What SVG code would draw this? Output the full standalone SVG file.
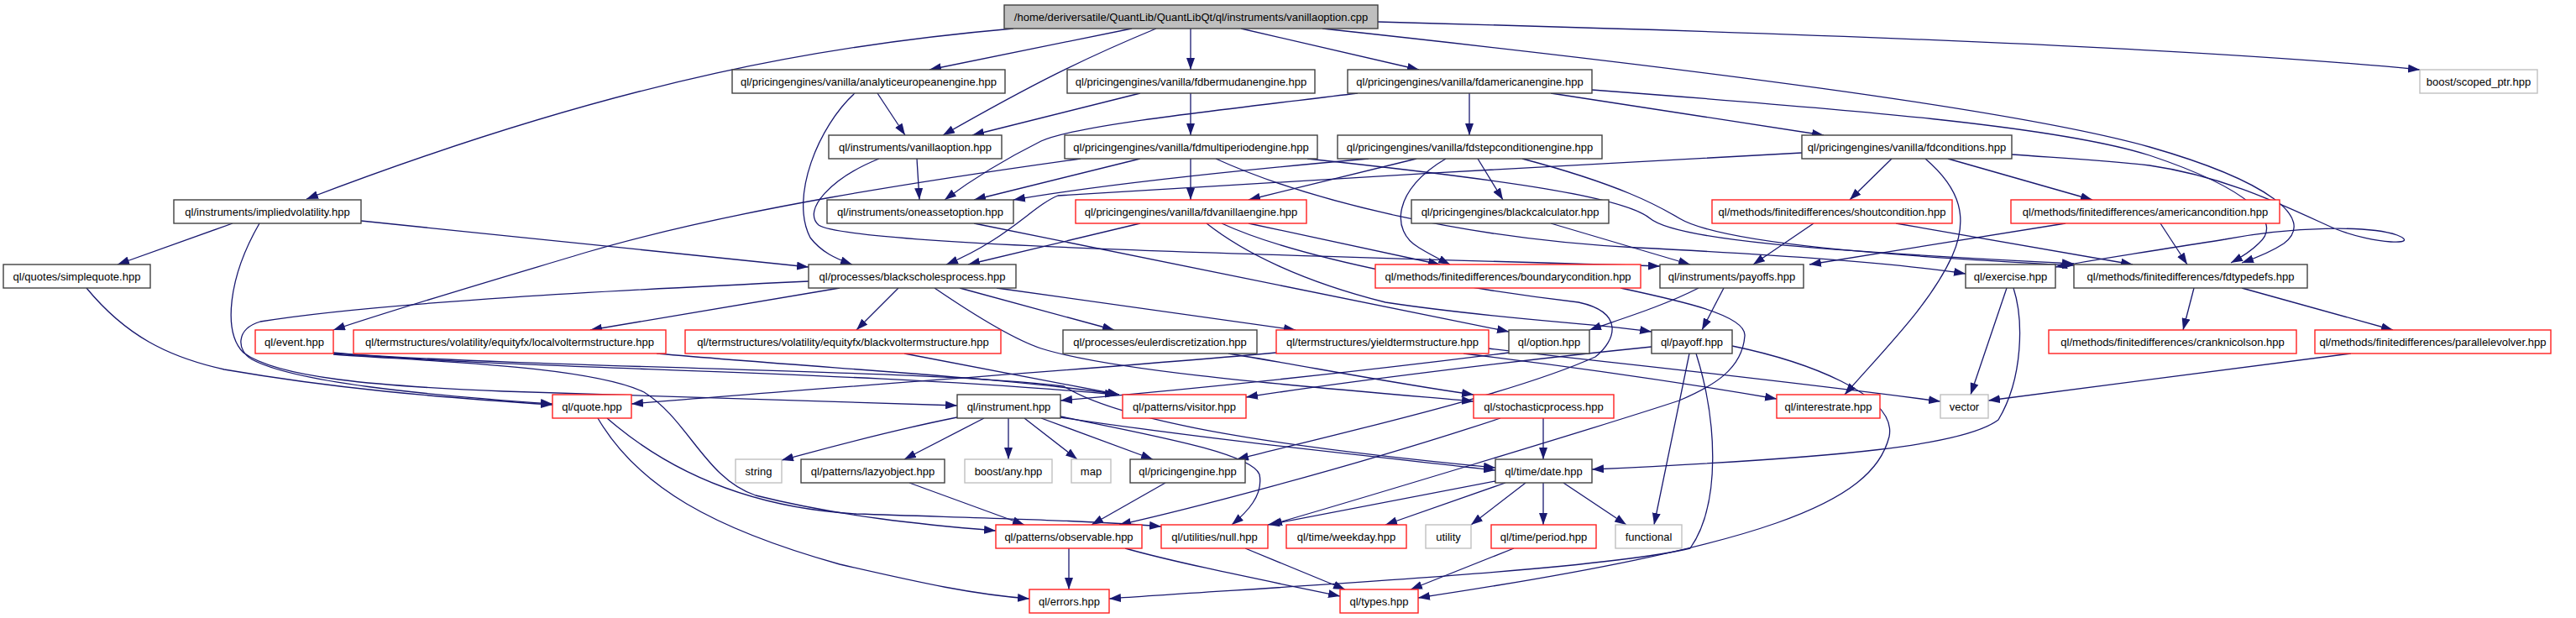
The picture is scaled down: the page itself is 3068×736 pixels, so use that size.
<svg xmlns="http://www.w3.org/2000/svg" width="3068" height="736" viewBox="0 0 3068 736">
<defs>
<marker id="a" markerUnits="userSpaceOnUse" markerWidth="14" markerHeight="10" refX="14" refY="5" orient="auto" viewBox="0 0 14 10"><path d="M0,0L14,5L0,10z" fill="#191970"/></marker>
<style>
.n rect{fill:#fff;stroke:#404040;stroke-width:1.4}
.r rect{fill:#fff;stroke:#ff2020;stroke-width:1.4}
.g rect{fill:#fff;stroke:#c0c0c0;stroke-width:1.4}
.root rect{fill:#bfbfbf;stroke:#404040;stroke-width:1.4}
text{font-family:"Liberation Sans",Arial,sans-serif;font-size:13px;fill:#000;text-anchor:middle}
#edges path{fill:none;stroke:#191970;stroke-width:1.3;marker-end:url(#a)}
</style>
</defs>
<rect width="3068" height="736" fill="#fff"/>
<g id="edges">
<path d="M1207,34 C1000,52 750,90 365,237"/>
<path d="M1348,34 L1107,83"/>
<path d="M1377,34 C1290,70 1230,100 1123,161"/>
<path d="M1418,34 L1418,83"/>
<path d="M1478,34 L1690,83"/>
<path d="M1641,26 C2100,38 2600,55 2882,83"/>
<path d="M1575,34 C2000,80 2400,130 2560,175 C2700,215 2760,260 2720,290 C2705,300 2690,306 2670,313"/>
<path d="M1896,107 C2200,130 2450,150 2560,185 C2680,225 2720,265 2690,290 C2680,300 2670,306 2657,313"/>
<path d="M2396,184 C2450,188 2500,190 2560,197 C2650,210 2720,245 2780,272 C2830,292 2885,292 2855,280 C2820,268 2730,270 2650,285 C2570,298 2500,308 2448,318"/>
<path d="M1045,111 L1078,161"/>
<path d="M1018,111 C975,150 940,235 965,283 C978,300 995,308 1015,315"/>
<path d="M1358,111 L1158,161"/>
<path d="M1418,111 L1418,161"/>
<path d="M1617,111 C1420,135 1280,150 1240,168 C1200,188 1160,212 1125,238"/>
<path d="M1750,111 L1750,161"/>
<path d="M1847,111 L2172,161"/>
<path d="M1092,189 L1095,238"/>
<path d="M1047,189 C990,212 955,250 975,268 C1010,292 1500,303 1977,317"/>
<path d="M1358,189 L1160,238"/>
<path d="M1418,189 L1418,238"/>
<path d="M1287,189 C1100,215 870,250 700,300 C600,330 480,365 397,393"/>
<path d="M1448,189 C1560,240 1750,285 1950,295 C2150,305 2270,315 2341,326"/>
<path d="M1557,189 C1800,215 1935,235 1965,260 C1995,285 2150,298 2470,314"/>
<path d="M1630,189 C1450,205 1300,222 1207,238"/>
<path d="M1687,189 L1487,238"/>
<path d="M1722,189 C1660,225 1655,275 1690,295 C1703,303 1713,308 1727,315"/>
<path d="M1760,189 L1790,238"/>
<path d="M1813,189 C1930,220 1975,245 2000,260 C2050,290 2250,305 2470,316"/>
<path d="M2253,189 L2203,238"/>
<path d="M2320,189 L2492,238"/>
<path d="M2293,189 C2335,225 2345,260 2325,305 C2300,360 2250,410 2197,470"/>
<path d="M2146,182 C1900,195 1500,217 1260,233 C1230,245 1200,285 1127,315"/>
<path d="M277,266 L140,315"/>
<path d="M430,263 L963,318"/>
<path d="M309,266 C272,330 265,395 290,420 C330,450 450,460 600,466 C800,472 1000,477 1140,483"/>
<path d="M963,335 C750,345 450,360 310,383 C280,392 282,418 300,428 C350,455 500,470 658,481"/>
<path d="M103,343 C150,400 200,425 267,440 C400,463 520,473 658,482"/>
<path d="M1000,343 L703,393"/>
<path d="M1070,343 L1020,393"/>
<path d="M1113,343 C1160,375 1210,405 1240,415 C1330,443 1550,460 1755,478"/>
<path d="M1143,343 L1327,393"/>
<path d="M1187,343 L1543,393"/>
<path d="M1930,343 C2000,358 2080,375 2078,400 C2075,440 2040,460 2000,477 C1900,510 1600,600 1513,625"/>
<path d="M2023,343 C1980,365 1930,380 1893,393"/>
<path d="M2053,343 L2027,393"/>
<path d="M2390,343 L2347,470"/>
<path d="M2398,343 C2410,380 2410,450 2380,500 C2340,530 2200,545 1896,559"/>
<path d="M2160,266 L2088,315"/>
<path d="M2258,266 L2540,315"/>
<path d="M2460,266 L2155,315"/>
<path d="M2573,266 L2605,315"/>
<path d="M1847,266 L2013,315"/>
<path d="M2613,343 L2600,393"/>
<path d="M2670,343 L2850,393"/>
<path d="M2800,421 L2368,477"/>
<path d="M1358,266 L1153,315"/>
<path d="M1487,266 L1715,315"/>
<path d="M1455,266 C1550,310 1750,345 1880,360 C1935,372 1925,405 1900,425 C1800,470 1600,515 1473,547"/>
<path d="M1437,266 C1480,300 1550,335 1650,360 C1780,380 1900,385 1967,395"/>
<path d="M1160,266 L1797,395"/>
<path d="M397,420 C600,440 1000,440 1330,470"/>
<path d="M397,421 C700,440 1100,440 1267,460 C1330,500 1500,530 1781,557"/>
<path d="M397,422 C500,430 700,435 767,467 C820,500 840,570 900,590 C1000,615 1100,625 1186,632"/>
<path d="M782,421 C1000,440 1200,450 1333,470"/>
<path d="M1077,421 L1333,470"/>
<path d="M1463,421 C1550,435 1650,455 1755,470"/>
<path d="M1520,420 C1300,440 1000,460 752,481"/>
<path d="M1743,421 C1900,440 2000,455 2116,475"/>
<path d="M1773,415 C1900,430 2100,450 2311,478"/>
<path d="M1797,420 C1600,445 1400,465 1263,477"/>
<path d="M1967,413 C1800,430 1600,455 1484,473"/>
<path d="M2012,421 L1970,625"/>
<path d="M2063,412 C2150,430 2260,470 2250,520 C2230,600 2100,650 1689,712"/>
<path d="M2020,421 C2045,500 2050,600 2013,653 C1900,680 1500,700 1321,713"/>
<path d="M723,498 C800,565 900,605 1020,612 C1200,618 1300,620 1383,627"/>
<path d="M712,498 C760,580 850,630 1000,672 C1100,695 1160,708 1226,713"/>
<path d="M1140,497 C1050,515 980,535 931,548"/>
<path d="M1172,498 L1077,547"/>
<path d="M1201,498 L1201,547"/>
<path d="M1220,498 L1283,547"/>
<path d="M1240,498 L1373,547"/>
<path d="M1263,496 C1380,520 1490,540 1500,565 C1505,590 1485,610 1467,625"/>
<path d="M1263,497 C1450,525 1650,545 1781,560"/>
<path d="M1083,575 L1220,625"/>
<path d="M1388,575 L1300,625"/>
<path d="M1838,498 L1838,547"/>
<path d="M1787,498 C1600,560 1400,610 1333,625"/>
<path d="M1781,573 L1510,625"/>
<path d="M1793,575 L1650,625"/>
<path d="M1817,575 L1752,625"/>
<path d="M1838,575 L1838,625"/>
<path d="M1862,575 L1937,625"/>
<path d="M1803,653 L1680,702"/>
<path d="M1483,653 L1602,702"/>
<path d="M1273,653 L1273,702"/>
<path d="M1340,653 C1400,670 1500,690 1596,710"/>
</g>
<g id="n_root" class="root"><rect x="1196" y="6" width="445" height="28"/><text x="1418.5" y="25">/home/deriversatile/QuantLib/QuantLibQt/ql/instruments/vanillaoption.cpp</text></g>
<g id="n_analytic" class="n"><rect x="872" y="83" width="325" height="28"/><text x="1034.5" y="102">ql/pricingengines/vanilla/analyticeuropeanengine.hpp</text></g>
<g id="n_fdbermudan" class="n"><rect x="1271" y="83" width="295" height="28"/><text x="1418.5" y="102">ql/pricingengines/vanilla/fdbermudanengine.hpp</text></g>
<g id="n_fdamerican" class="n"><rect x="1605" y="83" width="291" height="28"/><text x="1750.5" y="102">ql/pricingengines/vanilla/fdamericanengine.hpp</text></g>
<g id="n_scoped" class="g"><rect x="2882" y="83" width="140" height="28"/><text x="2952" y="102">boost/scoped_ptr.hpp</text></g>
<g id="n_vanillaoption" class="n"><rect x="987" y="161" width="206" height="28"/><text x="1090" y="180">ql/instruments/vanillaoption.hpp</text></g>
<g id="n_fdmulti" class="n"><rect x="1268" y="161" width="301" height="28"/><text x="1418.5" y="180">ql/pricingengines/vanilla/fdmultiperiodengine.hpp</text></g>
<g id="n_fdstep" class="n"><rect x="1593" y="161" width="315" height="28"/><text x="1750.5" y="180">ql/pricingengines/vanilla/fdstepconditionengine.hpp</text></g>
<g id="n_fdconditions" class="n"><rect x="2146" y="161" width="250" height="28"/><text x="2271" y="180">ql/pricingengines/vanilla/fdconditions.hpp</text></g>
<g id="n_implied" class="n"><rect x="207" y="238" width="223" height="28"/><text x="318.5" y="257">ql/instruments/impliedvolatility.hpp</text></g>
<g id="n_oneasset" class="n"><rect x="985" y="238" width="222" height="28"/><text x="1096" y="257">ql/instruments/oneassetoption.hpp</text></g>
<g id="n_fdvanilla" class="r"><rect x="1281" y="238" width="275" height="28"/><text x="1418.5" y="257">ql/pricingengines/vanilla/fdvanillaengine.hpp</text></g>
<g id="n_blackcalc" class="n"><rect x="1681" y="238" width="235" height="28"/><text x="1798.5" y="257">ql/pricingengines/blackcalculator.hpp</text></g>
<g id="n_shout" class="r"><rect x="2039" y="238" width="286" height="28"/><text x="2182" y="257">ql/methods/finitedifferences/shoutcondition.hpp</text></g>
<g id="n_american" class="r"><rect x="2395" y="238" width="320" height="28"/><text x="2555" y="257">ql/methods/finitedifferences/americancondition.hpp</text></g>
<g id="n_simplequote" class="n"><rect x="4" y="315" width="175" height="28"/><text x="91.5" y="334">ql/quotes/simplequote.hpp</text></g>
<g id="n_bsp" class="n"><rect x="963" y="315" width="247" height="28"/><text x="1086.5" y="334">ql/processes/blackscholesprocess.hpp</text></g>
<g id="n_boundary" class="r"><rect x="1638" y="315" width="316" height="28"/><text x="1796" y="334">ql/methods/finitedifferences/boundarycondition.hpp</text></g>
<g id="n_payoffs" class="n"><rect x="1977" y="315" width="171" height="28"/><text x="2062.5" y="334">ql/instruments/payoffs.hpp</text></g>
<g id="n_exercise" class="n"><rect x="2341" y="315" width="107" height="28"/><text x="2394.5" y="334">ql/exercise.hpp</text></g>
<g id="n_fdtypedefs" class="n"><rect x="2470" y="315" width="278" height="28"/><text x="2609" y="334">ql/methods/finitedifferences/fdtypedefs.hpp</text></g>
<g id="n_event" class="r"><rect x="304" y="393" width="93" height="28"/><text x="350.5" y="412">ql/event.hpp</text></g>
<g id="n_localvol" class="r"><rect x="421" y="393" width="372" height="28"/><text x="607" y="412">ql/termstructures/volatility/equityfx/localvoltermstructure.hpp</text></g>
<g id="n_blackvol" class="r"><rect x="816" y="393" width="376" height="28"/><text x="1004" y="412">ql/termstructures/volatility/equityfx/blackvoltermstructure.hpp</text></g>
<g id="n_euler" class="n"><rect x="1266" y="393" width="231" height="28"/><text x="1381.5" y="412">ql/processes/eulerdiscretization.hpp</text></g>
<g id="n_yieldts" class="r"><rect x="1520" y="393" width="253" height="28"/><text x="1646.5" y="412">ql/termstructures/yieldtermstructure.hpp</text></g>
<g id="n_option" class="n"><rect x="1797" y="393" width="96" height="28"/><text x="1845" y="412">ql/option.hpp</text></g>
<g id="n_payoff" class="n"><rect x="1967" y="393" width="96" height="28"/><text x="2015" y="412">ql/payoff.hpp</text></g>
<g id="n_crank" class="r"><rect x="2440" y="393" width="295" height="28"/><text x="2587.5" y="412">ql/methods/finitedifferences/cranknicolson.hpp</text></g>
<g id="n_parallel" class="r"><rect x="2757" y="393" width="281" height="28"/><text x="2897.5" y="412">ql/methods/finitedifferences/parallelevolver.hpp</text></g>
<g id="n_quote" class="r"><rect x="658" y="470" width="94" height="28"/><text x="705" y="489">ql/quote.hpp</text></g>
<g id="n_instrument" class="n"><rect x="1140" y="470" width="123" height="28"/><text x="1201.5" y="489">ql/instrument.hpp</text></g>
<g id="n_visitor" class="r"><rect x="1337" y="470" width="147" height="28"/><text x="1410.5" y="489">ql/patterns/visitor.hpp</text></g>
<g id="n_stochastic" class="r"><rect x="1755" y="470" width="167" height="28"/><text x="1838.5" y="489">ql/stochasticprocess.hpp</text></g>
<g id="n_interestrate" class="r"><rect x="2116" y="470" width="123" height="28"/><text x="2177.5" y="489">ql/interestrate.hpp</text></g>
<g id="n_vector" class="g"><rect x="2311" y="470" width="57" height="28"/><text x="2339.5" y="489">vector</text></g>
<g id="n_string" class="g"><rect x="876" y="547" width="55" height="28"/><text x="903.5" y="566">string</text></g>
<g id="n_lazyobject" class="n"><rect x="954" y="547" width="171" height="28"/><text x="1039.5" y="566">ql/patterns/lazyobject.hpp</text></g>
<g id="n_any" class="g"><rect x="1149" y="547" width="104" height="28"/><text x="1201" y="566">boost/any.hpp</text></g>
<g id="n_map" class="g"><rect x="1276" y="547" width="47" height="28"/><text x="1299.5" y="566">map</text></g>
<g id="n_pricingengine" class="n"><rect x="1346" y="547" width="137" height="28"/><text x="1414.5" y="566">ql/pricingengine.hpp</text></g>
<g id="n_date" class="n"><rect x="1781" y="547" width="115" height="28"/><text x="1838.5" y="566">ql/time/date.hpp</text></g>
<g id="n_observable" class="r"><rect x="1186" y="625" width="174" height="28"/><text x="1273" y="644">ql/patterns/observable.hpp</text></g>
<g id="n_null" class="r"><rect x="1383" y="625" width="127" height="28"/><text x="1446.5" y="644">ql/utilities/null.hpp</text></g>
<g id="n_weekday" class="r"><rect x="1532" y="625" width="143" height="28"/><text x="1603.5" y="644">ql/time/weekday.hpp</text></g>
<g id="n_utility" class="g"><rect x="1698" y="625" width="54" height="28"/><text x="1725" y="644">utility</text></g>
<g id="n_period" class="r"><rect x="1776" y="625" width="125" height="28"/><text x="1838.5" y="644">ql/time/period.hpp</text></g>
<g id="n_functional" class="g"><rect x="1924" y="625" width="79" height="28"/><text x="1963.5" y="644">functional</text></g>
<g id="n_errors" class="r"><rect x="1226" y="702" width="95" height="28"/><text x="1273.5" y="721">ql/errors.hpp</text></g>
<g id="n_types" class="r"><rect x="1596" y="702" width="93" height="28"/><text x="1642.5" y="721">ql/types.hpp</text></g>
</svg>
